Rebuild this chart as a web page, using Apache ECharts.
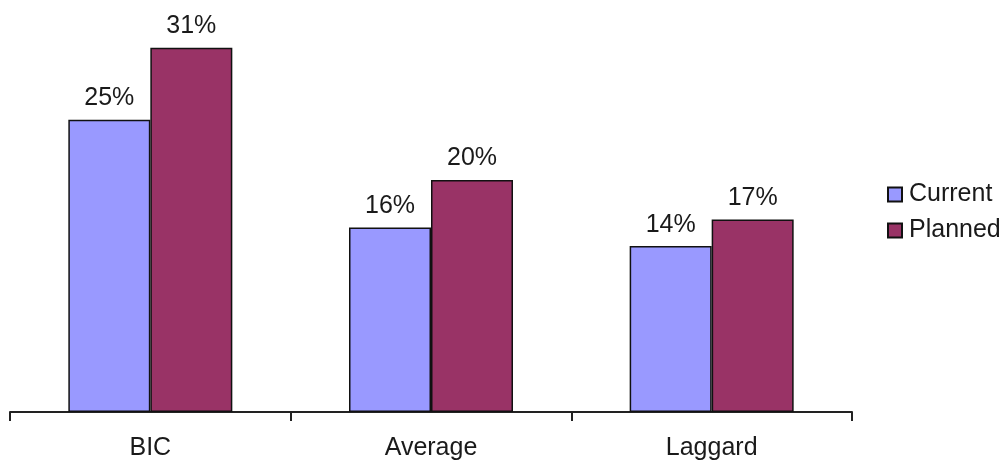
<!DOCTYPE html>
<html>
<head>
<meta charset="utf-8">
<script src="https://cdn.jsdelivr.net/npm/echarts@6/dist/echarts.min.js"></script>
<style>html,body{margin:0;padding:0;background:#fff}#c{width:1004px;height:461px}</style>
</head>
<body>
<div id="c"></div>
<script>
const categories = ['BIC', 'Average', 'Laggard'];
const currentValues = [25.2, 15.9, 14.3];
const plannedValues = [31.4, 20.0, 16.6];
const seriesNames = ['Current', 'Planned'];

const FONT = 'Liberation Sans, Arial, sans-serif';
const chart = echarts.init(document.getElementById('c'));
const labelStyle = {
  show: true, position: 'top', distance: 9,
  fontFamily: FONT, fontSize: 25, color: '#1a1a1a',
  formatter: p => Math.round(p.value) + '%'
};
chart.setOption({
  animation: false,
  grid: { left: 10, width: 842, top: 6, bottom: 49 },
  legend: {
    orient: 'vertical', left: 882, top: 177,
    itemWidth: 14, itemHeight: 14, itemGap: 11,
    icon: 'rect',
    itemStyle: { borderColor: '#111', borderWidth: 2 },
    textStyle: { fontFamily: FONT, fontSize: 25, color: '#1a1a1a', padding: [0, 0, 0, 2] },
    data: seriesNames
  },
  xAxis: {
    type: 'category', data: categories, boundaryGap: true,
    axisLine: { lineStyle: { color: '#222', width: 2 } },
    axisTick: { show: true, length: 9, lineStyle: { color: '#222', width: 2 } },
    axisLabel: { margin: 24, fontFamily: FONT, fontSize: 25, color: '#1a1a1a' }
  },
  yAxis: { type: 'value', min: 0, max: 35, show: false, splitLine: { show: false } },
  series: [
    { name: seriesNames[0], type: 'bar', data: currentValues, barWidth: 82, barGap: '0%',
      itemStyle: { color: '#9999FF', borderColor: '#111', borderWidth: 1.5 }, label: labelStyle },
    { name: seriesNames[1], type: 'bar', data: plannedValues, barWidth: 82,
      itemStyle: { color: '#993366', borderColor: '#111', borderWidth: 1.5 }, label: labelStyle }
  ]
});
</script>
</body>
</html>
